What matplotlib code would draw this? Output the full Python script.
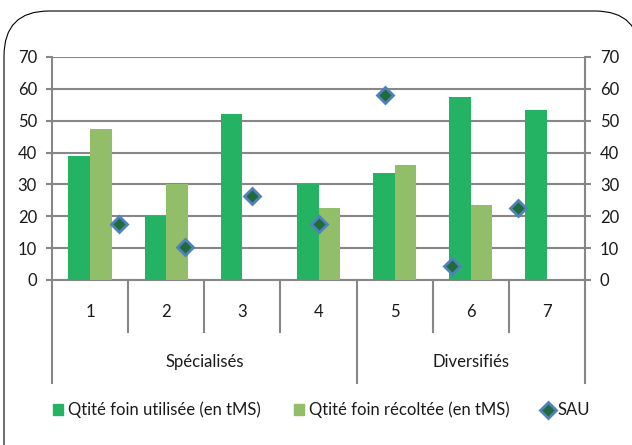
import matplotlib.pyplot as plt
import numpy as np
from matplotlib.lines import Line2D
from matplotlib.patches import FancyBboxPatch, Patch

# Data
categories = ["1", "2", "3", "4", "5", "6", "7"]
groups = ["Spécialisés", "Diversifiés"]
group_sizes = [4, 3]
foin_utilisee = [39, 20, 52, 30, 33.5, 57.5, 53.5]
foin_recoltee = [47.5, 30, 0, 22.5, 36, 23.5, 0]
sau = [17.5, 10.5, 26.5, 17.5, 58, 4.5, 22.5]
y_ticks = [0, 10, 20, 30, 40, 50, 60, 70]
labels = ["Qtité foin utilisée (en tMS)", "Qtité foin récoltée (en tMS)", "SAU"]

# Colours
C_UTIL = "#23B363"
C_RECOLT = "#93BE69"
C_SAU_FACE = "#1F6B3A"
C_SAU_EDGE = "#4F81BD"
C_GRID = "#878787"
C_TEXT = "#1A1A1A"

plt.rcParams["font.family"] = ["Lato", "DejaVu Sans"]
FS = 12

W, H = 632, 445
PX = 72 / 100  # points per pixel at dpi 100
fig = plt.figure(figsize=(W / 100, H / 100), dpi=100)

# rounded frame round the whole chart (runs off the canvas on the right and bottom);
# filled white so the renderer does not clip the outline at the canvas edge
frame = FancyBboxPatch((4 / W, 1 - 520 / H), 636 / W, 509 / H,
                       boxstyle=f"round,pad=0,rounding_size={45 / W}",
                       mutation_aspect=W / H, transform=fig.transFigure,
                       facecolor="white", edgecolor="black", linewidth=0.8, zorder=-1)
fig.patches.append(frame)

ax = fig.add_axes([52 / W, 1 - 280 / H, 533 / W, 223 / H])
x = np.arange(1, len(categories) + 1)
w = 0.285
ax.bar(x - w / 2, foin_utilisee, w, color=C_UTIL, zorder=3)
ax.bar(x + w / 2, foin_recoltee, w, color=C_RECOLT, zorder=3)

ax.set_xlim(0.5, len(categories) + 0.5)
ax.set_ylim(0, 70)
ax.set_yticks(y_ticks)
ax.set_xticks([])
ax.yaxis.grid(True, color=C_GRID, linewidth=1.5, zorder=0)
ax.set_axisbelow(True)
for side in ["top", "right"]:
    ax.spines[side].set_visible(False)
for side in ["left", "bottom"]:
    ax.spines[side].set_color(C_GRID)
    ax.spines[side].set_linewidth(1.5)
ax.tick_params(axis="y", length=6 * PX, width=1.5, color=C_GRID, pad=9 * PX,
               labelsize=FS, labelcolor=C_TEXT)

# right-hand axis with the same scale
ax_r = ax.twinx()
ax_r.set_ylim(0, 70)
ax_r.set_yticks(y_ticks)
for side in ["top", "left", "bottom"]:
    ax_r.spines[side].set_visible(False)
ax_r.spines["right"].set_color(C_GRID)
ax_r.spines["right"].set_linewidth(1.5)
ax_r.tick_params(axis="y", length=6 * PX, width=1.5, color=C_GRID, pad=9 * PX,
                 labelsize=FS, labelcolor=C_TEXT)

# SAU on a secondary x scale (points spread over 8 divisions)
ax_s = ax.twiny()
ax_s.set_xlim(0, len(sau) + 1)
ax_s.plot(np.arange(1, len(sau) + 1), sau, ls="none", marker="D", ms=8,
          mfc=C_SAU_FACE, mec=C_SAU_EDGE, mew=2, zorder=5, clip_on=False)
ax_s.axis("off")

# two-level category axis
trans = ax.get_xaxis_transform()
y_cat, y_grp = -52 / 223, -103 / 223
edges = np.arange(0.5, len(categories) + 1)
grp_edges = 0.5 + np.concatenate([[0], np.cumsum(group_sizes)])
for e in edges:
    bottom = y_grp if e in grp_edges else y_cat
    ax.plot([e, e], [0, bottom], transform=trans, color=C_GRID, lw=1.5, clip_on=False)
for xi, lab in zip(x, categories):
    ax.text(xi, -32 / 223, lab, transform=trans, ha="center", va="center",
            fontsize=FS, color=C_TEXT)
for g0, g1, lab in zip(grp_edges[:-1], grp_edges[1:], groups):
    ax.text((g0 + g1) / 2, -82 / 223, lab, transform=trans, ha="center", va="center",
            fontsize=FS, color=C_TEXT)

handles = [
    Patch(color=C_UTIL),
    Patch(color=C_RECOLT),
    Line2D([], [], ls="none", marker="D", ms=8, mfc=C_SAU_FACE, mec=C_SAU_EDGE, mew=2),
]
fig.legend(handles, labels, loc="center", bbox_to_anchor=(0.509, 1 - 410 / H), ncol=3,
           frameon=False, fontsize=FS, handlelength=0.6, handleheight=0.6,
           handletextpad=0.3, columnspacing=2.0, labelcolor=C_TEXT)

fig.savefig("out.png", dpi=100)
